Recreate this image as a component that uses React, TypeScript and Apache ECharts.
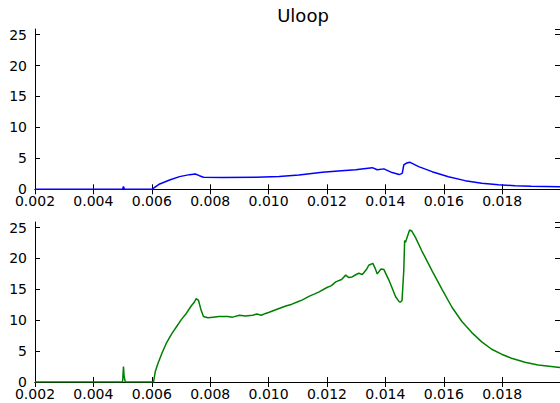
import React, { useEffect, useRef } from "react";
import * as echarts from "echarts";

const titleText = "Uloop";
const xMin = 0.002;
const xMax = 0.01998;
const xStep = 0.002;
const yMin = 0;
const yMax = 25.9;
const yStep = 5;

const blueX = [0.002, 0.005, 0.00503, 0.00506, 0.006, 0.00602, 0.00627, 0.00661, 0.00695, 0.00729, 0.00749, 0.00763, 0.00777, 0.00843, 0.00957, 0.01036, 0.01104, 0.01184, 0.0125, 0.01298, 0.01355, 0.01372, 0.01395, 0.01423, 0.01447, 0.01452, 0.01458, 0.01463, 0.01471, 0.01483, 0.01514, 0.0156, 0.01616, 0.01673, 0.0173, 0.01787, 0.01844, 0.019, 0.01998];
const blueY = [0, 0, 0.45, 0, 0, 0, 0.86, 1.5, 2.05, 2.37, 2.48, 2.2, 1.95, 1.9, 1.95, 2.05, 2.3, 2.75, 3.0, 3.15, 3.5, 3.15, 3.3, 2.7, 2.4, 2.45, 2.6, 3.94, 4.2, 4.38, 3.66, 2.85, 2.04, 1.4, 0.97, 0.75, 0.58, 0.49, 0.42];

const greenX = [0.002, 0.005, 0.00503, 0.00505, 0.00509, 0.00511, 0.006, 0.00606, 0.00612, 0.00621, 0.00635, 0.00649, 0.00667, 0.00684, 0.00701, 0.00718, 0.00735, 0.00746, 0.00752, 0.0076, 0.00769, 0.00777, 0.00792, 0.0081, 0.0083, 0.0086, 0.00877, 0.009, 0.0092, 0.00945, 0.0096, 0.00975, 0.0099, 0.01002, 0.01036, 0.01059, 0.0108, 0.011, 0.01116, 0.0114, 0.0116, 0.01173, 0.012, 0.01215, 0.0123, 0.0125, 0.01264, 0.01275, 0.01286, 0.013, 0.01309, 0.01321, 0.01335, 0.01343, 0.01357, 0.01365, 0.01372, 0.01385, 0.01395, 0.01412, 0.01435, 0.01447, 0.01452, 0.01457, 0.01463, 0.01466, 0.01469, 0.01475, 0.01483, 0.01491, 0.01503, 0.01525, 0.0156, 0.01594, 0.01628, 0.01662, 0.01696, 0.0173, 0.01764, 0.01798, 0.01832, 0.01878, 0.01923, 0.01998];
const greenY = [0, 0, 2.5, 1.0, 0, 0, 0, 0, 1.7, 3.0, 4.7, 6.2, 7.7, 8.9, 10.1, 11.1, 12.3, 12.95, 13.5, 13.2, 11.6, 10.6, 10.4, 10.5, 10.6, 10.6, 10.5, 10.8, 10.7, 10.8, 11.0, 10.8, 11.1, 11.3, 11.9, 12.3, 12.6, 13.0, 13.3, 13.9, 14.3, 14.6, 15.3, 15.6, 16.2, 16.6, 17.3, 16.9, 17.0, 17.4, 17.6, 17.4, 18.2, 18.9, 19.2, 18.4, 17.5, 18.3, 18.2, 16.5, 13.8, 13.0, 12.95, 13.2, 18.1, 22.9, 22.6, 23.5, 24.6, 24.4, 23.4, 21.2, 18.0, 15.0, 12.1, 9.8, 8.0, 6.5, 5.3, 4.5, 3.85, 3.2, 2.75, 2.35];

const FONT = "DejaVu Sans";

function isMultiple(v: number, step: number) {
  const r = v / step;
  return Math.abs(r - Math.round(r)) < 1e-6;
}

export default function App() {
  const ref = useRef<HTMLDivElement>(null);
  useEffect(() => {
    if (!ref.current) return;
    const chart = echarts.init(ref.current, undefined, { renderer: "svg" });
    const grids = [
      { left: 35, top: 29, width: 527, height: 160.3 },
      { left: 35, top: 222, width: 527, height: 160 },
    ];
    const axisLine = { show: true, lineStyle: { color: "#000", width: 1 } };
    const tick = { show: true, inside: true, length: 5, lineStyle: { color: "#000", width: 1 } };
    const xAxes: any[] = [];
    const yAxes: any[] = [];
    [0, 1].forEach((g) => {
      xAxes.push({
        type: "value", gridIndex: g, position: "bottom", min: xMin, max: xMax, interval: xStep,
        axisLine, axisTick: tick, splitLine: { show: false },
        axisLabel: {
          show: true, margin: 5, color: "#000", fontFamily: FONT, fontSize: 14,
          showMaxLabel: false,
          formatter: (v: number) => (isMultiple(v, xStep) ? v.toFixed(3) : ""),
        },
      });
      xAxes.push({
        type: "value", gridIndex: g, position: "top", min: xMin, max: xMax, interval: xStep,
        axisLine, axisTick: tick, splitLine: { show: false }, axisLabel: { show: false },
      });
      yAxes.push({
        type: "value", gridIndex: g, position: "left", min: yMin, max: yMax, interval: yStep,
        axisLine, axisTick: tick, splitLine: { show: false },
        axisLabel: {
          show: true, margin: 8, color: "#000", fontFamily: FONT, fontSize: 14,
          showMaxLabel: false,
          formatter: (v: number) => (isMultiple(v, yStep) ? String(Math.round(v)) : ""),
        },
      });
      yAxes.push({
        type: "value", gridIndex: g, position: "right", min: yMin, max: yMax, interval: yStep,
        axisLine, axisTick: tick, splitLine: { show: false }, axisLabel: { show: false },
      });
    });
    chart.setOption({
      animation: false,
      backgroundColor: "#fff",
      title: {
        text: titleText, left: 298, top: 1, textAlign: "center",
        textStyle: { fontFamily: FONT, fontSize: 18, fontWeight: "normal", color: "#000" },
      },
      grid: grids,
      xAxis: xAxes,
      yAxis: yAxes,
      series: [
        {
          type: "line", xAxisIndex: 0, yAxisIndex: 0, showSymbol: false, symbol: "none",
          data: blueX.map((x, i) => [x, blueY[i]]),
          lineStyle: { color: "#0000ff", width: 1.5 },
        },
        {
          type: "line", xAxisIndex: 2, yAxisIndex: 2, showSymbol: false, symbol: "none",
          data: greenX.map((x, i) => [x, greenY[i]]),
          lineStyle: { color: "#008000", width: 1.5 },
        },
      ],
    });
    return () => chart.dispose();
  }, []);
  return (
    <div
      ref={ref}
      style={{ position: "fixed", left: 0, top: 0, width: 560, height: 403, background: "#fff" }}
    />
  );
}
